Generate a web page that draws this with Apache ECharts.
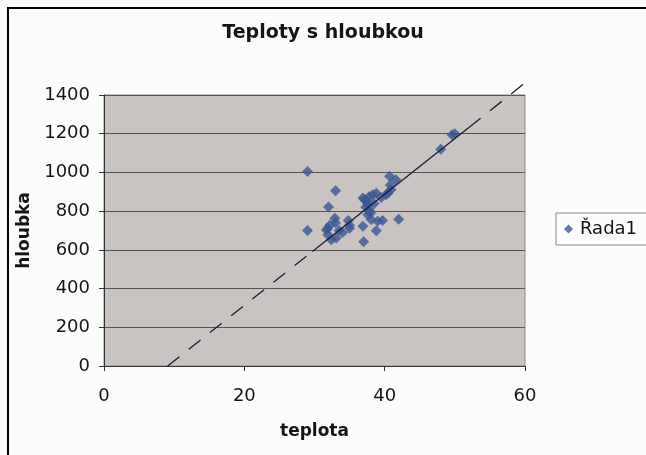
<!DOCTYPE html>
<html>
<head>
<meta charset="utf-8">
<script src="https://cdn.jsdelivr.net/npm/echarts@6/dist/echarts.min.js"></script>
<style>
  html, body { margin: 0; padding: 0; background: #fcfcfb; }
  #chart { width: 646px; height: 455px; }
</style>
</head>
<body>
<div id="chart"></div>
<script>
// Measured temperature (teplota) against depth (hloubka)
const teplota = [29, 29, 33, 32, 50, 49.6, 48, 40.7, 41.6, 42, 37, 38.8, 39.7, 39, 36.9,
  37.1, 37.8, 38.8, 40.2, 40.9, 37.6, 37.8, 37.6, 38.1, 32.9, 32.2, 31.7, 31.9, 32.4,
  33.1, 34.0, 35.0, 34.8, 31.9, 33.0, 35.0, 36.9, 38.3, 39.5, 40.5, 38.5, 37.3, 38.0,
  40.8, 33.5, 37.5];
const hloubka = [1005, 700, 905, 822, 1200, 1195, 1120, 980, 962, 758, 642, 699, 752, 748, 722,
  860, 876, 893, 885, 910, 833, 807, 782, 756, 763, 728, 703, 678, 652,
  661, 690, 712, 752, 712, 740, 727, 868, 885, 870, 895, 840, 820, 790,
  935, 700, 850];

// Linear trendline: solid across the data, dashed extension to both sides
const trendSolidX = [29.7, 52];
const trendSolidY = [592, 1232];
const trendBackX = [9.07, 29.7];
const trendBackY = [0, 592];
const trendFwdX = [52, 59.8];
const trendFwdY = [1232, 1457];

const xTicks = [0, 20, 40, 60];
const yTicks = [0, 200, 400, 600, 800, 1000, 1200, 1400];

const seriesName = 'Řada1';
const pointColor = '#3a5794';
const trendColor = '#1c1c3a';
const FONT = 'DejaVu Sans, Verdana, sans-serif';

const zip = (a, b) => a.map((v, i) => [v, b[i]]);

const chart = echarts.init(document.getElementById('chart'), null, { renderer: 'canvas' });

chart.setOption({
  animation: false,
  backgroundColor: '#fcfcfb',
  textStyle: { fontFamily: FONT },
  title: {
    text: 'Teploty s hloubkou',
    left: 'center',
    top: 19,
    textStyle: { fontSize: 19, fontWeight: 'bold', color: '#151515', fontFamily: FONT }
  },
  graphic: [{
    type: 'rect',
    shape: { x: 8, y: 8, width: 700, height: 500 },
    style: { fill: 'none', stroke: '#000', lineWidth: 2 },
    z: 100
  }],
  legend: {
    data: [{ name: seriesName, icon: 'diamond' }],
    left: 556,
    top: 213,
    orient: 'vertical',
    padding: [7, 20, 7, 8],
    itemWidth: 9,
    itemHeight: 9,
    itemGap: 6,
    borderColor: '#8a8a8a',
    borderWidth: 1,
    textStyle: { fontSize: 18, color: '#151515', fontFamily: FONT, padding: [0, 0, 0, 2] }
  },
  grid: {
    left: 104, top: 95, width: 421, height: 271,
    show: true,
    backgroundColor: '#c9c4c1',
    borderColor: '#8c8c8c',
    borderWidth: 1
  },
  xAxis: {
    type: 'value',
    min: xTicks[0],
    max: xTicks[xTicks.length - 1],
    interval: xTicks[1] - xTicks[0],
    name: 'teplota',
    nameLocation: 'middle',
    nameGap: 57,
    nameTextStyle: { fontSize: 17, fontWeight: 'bold', color: '#151515', fontFamily: FONT },
    axisLine: { show: true, onZero: false, lineStyle: { color: '#333', width: 1 } },
    axisTick: { show: true, inside: false, length: 5, lineStyle: { color: '#333' } },
    axisLabel: { fontSize: 18, color: '#151515', margin: 21, fontFamily: FONT },
    splitLine: { show: false }
  },
  yAxis: {
    type: 'value',
    min: yTicks[0],
    max: yTicks[yTicks.length - 1],
    interval: yTicks[1] - yTicks[0],
    name: 'hloubka',
    nameLocation: 'middle',
    nameRotate: 90,
    nameGap: 71,
    nameTextStyle: { fontSize: 17, fontWeight: 'bold', color: '#151515', fontFamily: FONT },
    axisLine: { show: true, lineStyle: { color: '#333', width: 1 } },
    axisTick: { show: true, inside: false, length: 5, lineStyle: { color: '#333' } },
    axisLabel: { fontSize: 18, color: '#151515', margin: 14, fontFamily: FONT, formatter: v => String(v) },
    splitLine: { show: true, lineStyle: { color: '#555', width: 1 } }
  },
  series: [
    {
      name: seriesName,
      type: 'scatter',
      symbol: 'diamond',
      symbolSize: 11,
      itemStyle: { color: pointColor },
      data: zip(teplota, hloubka),
      z: 3
    },
    {
      type: 'line',
      data: zip(trendSolidX, trendSolidY),
      showSymbol: false,
      symbol: 'none',
      clip: false,
      lineStyle: { color: trendColor, width: 1.3 },
      z: 4
    },
    {
      type: 'line',
      data: zip(trendBackX, trendBackY),
      showSymbol: false,
      symbol: 'none',
      clip: false,
      lineStyle: { color: trendColor, width: 1.3, type: [15, 12] },
      z: 4
    },
    {
      type: 'line',
      data: zip(trendFwdX, trendFwdY),
      showSymbol: false,
      symbol: 'none',
      clip: false,
      lineStyle: { color: trendColor, width: 1.3, type: [15, 12] },
      z: 4
    }
  ]
});
</script>
</body>
</html>
